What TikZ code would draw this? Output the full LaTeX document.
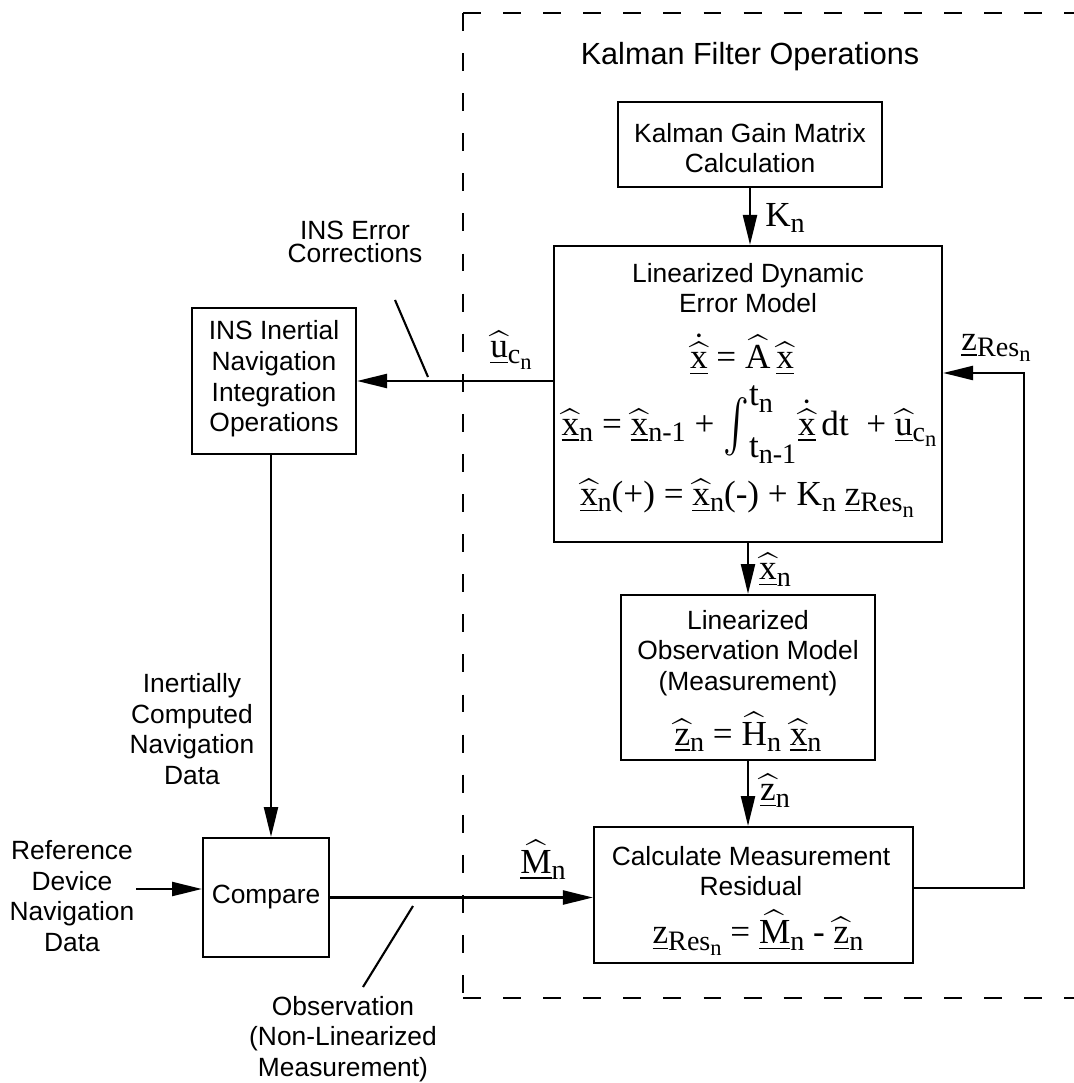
\documentclass[tikz,border=0pt]{standalone}
\usepackage{fontspec}
\usepackage{amsmath}
\usepackage{graphicx}
\setmainfont{Liberation Sans}
\newfontfamily\tms{Liberation Serif}
\usetikzlibrary{arrows.meta}

\newcommand\lowsub[1]{\mbox{\raisebox{-0.4ex}{\scalebox{0.8}{\tms #1}}}}
\newcommand\hx[1]{\mbox{$\underline{\widehat{\mbox{\tms #1}}}$}}
\newcommand\hdx[1]{\mbox{$\underline{\dot{\widehat{\mbox{\tms #1}}}}$}}
\newcommand\whb[1]{\mbox{$\widehat{\mbox{\tms #1}}$}}
\newcommand\uz{\mbox{$\underline{\mbox{\tms z}}$}}
\newcommand\zres{\uz\lowsub{Res\lowsub{n}}}
\newcommand\bigint{$\mathop{\vcenter{\hbox{\scalebox{1.1}[1.5]{$\int$}}}}\nolimits^{\mbox{\tms t\lowsub{n}}}_{\mbox{\tms t\lowsub{n-1}}}$}

\tikzset{
  box/.style={draw, line width=0.6pt, inner sep=0pt},
  txt/.style={font=\fontsize{7.5}{8.7}\selectfont, align=center, inner sep=0pt},
  mth/.style={font=\fontsize{10}{12}\tms, inner sep=0pt},
  arr/.style={line width=0.6pt, -{Triangle[length=8.5pt,width=4pt]}},
  thinline/.style={line width=0.6pt},
  dsh/.style={line width=0.6pt, dash pattern=on 5.1pt off 6.3pt}
}

\begin{document}
\begin{tikzpicture}[x=0.01cm,y=-0.01cm]
\useasboundingbox (0,0) rectangle (1074,1083);

% dashed region
\coordinate (dTL) at (463,13);
\coordinate (dTR) at (1074,13);
\coordinate (dBL) at (463,998);
\coordinate (dBR) at (1074,998);
\draw[dsh] (dTL) -- (dTR);
\draw[dsh] (dTL) -- (dBL);
\draw[dsh] (dBL) -- (dBR);

\node[txt, font=\fontsize{8.7}{10}\selectfont] (title) at (750,57) {Kalman Filter Operations};

% boxes
\node[box, minimum width=2.64cm, minimum height=0.85cm] (kg) at (750,144.5) {};
\node[txt] (kgt) at (750,148) {Kalman Gain Matrix\\Calculation};

\node[box, minimum width=3.88cm, minimum height=2.96cm] (dyn) at (748,394) {};
\node[txt] (dynt) at (748,288) {Linearized Dynamic\\Error Model};
\node[mth] (eq1) at (742,355) {\hdx{x} = \whb{A}\,\hx{x}};
\node[mth] (eq2) at (749,425) {\hx{x}\lowsub{n} = \hx{x}\lowsub{n-1} + \bigint\hdx{x}\,dt \ + \hx{u}\lowsub{c\lowsub{n}}};
\node[mth] (eq3) at (747,498) {\hx{x}\lowsub{n}(+) = \hx{x}\lowsub{n}(-) + K\lowsub{n} \zres};

\node[box, minimum width=2.54cm, minimum height=1.65cm] (obs) at (748,677.5) {};
\node[txt] (obst) at (748,653) {Linearized\\Observation Model\\(Measurement)};
\node[mth] (eq4) at (748,732) {\hx{z}\lowsub{n} = \whb{H}\lowsub{n} \hx{x}\lowsub{n}};

\node[box, minimum width=3.19cm, minimum height=1.36cm] (res) at (753.5,895) {};
\node[txt] (rest) at (751,871) {Calculate Measurement\\Residual};
\node[mth] (eq5) at (758,933) {\zres{} = \hx{M}\lowsub{n} - \hx{z}\lowsub{n}};

\node[box, minimum width=1.64cm, minimum height=1.46cm] (ins) at (274,381) {};
\node[txt] (inst) at (274,379) {INS Inertial\\Navigation\\Integration\\Operations};

\node[box, minimum width=1.26cm, minimum height=1.19cm] (cmp) at (266,897.5) {};
\node[txt] (cmpt) at (266,897) {Compare};

% free labels
\node[txt, font=\fontsize{7.5}{6.6}\selectfont] (insl) at (355,242) {INS Error\\Corrections};
\node[txt] (icl) at (192,729) {Inertially\\Computed\\Navigation\\Data};
\node[txt] (refl) at (72,896) {Reference\\Device\\Navigation\\Data};
\node[txt] (obl) at (343,1039) {Observation\\(Non-Linearized\\Measurement)};

% connector labels
\node[mth] (lk) at (785,218) {K\lowsub{n}};
\node[mth] (lx) at (775,570) {\hx{x}\lowsub{n}};
\node[mth] (lz) at (775,791) {\hx{z}\lowsub{n}};
\node[mth] (lu) at (511,350) {\hx{u}\lowsub{c\lowsub{n}}};
\node[mth] (lzr) at (996,348) {\zres};
\node[mth] (lm) at (543,860) {\hx{M}\lowsub{n}};

% connectors
\draw[arr] (kg.south) -- (kg.south |- dyn.north);
\draw[arr] (dyn.south) -- (dyn.south |- obs.north);
\draw[arr] (obs.south) -- (obs.south |- res.north);
\draw[arr] (dyn.west |- ins.east) -- (ins.east);

\coordinate (fbR) at (1024,888);
\coordinate (fbT) at (1024,373);
\draw[arr] (res.east |- fbR) -- (fbR) -- (fbT) -- (dyn.east |- fbT);

\coordinate (vl) at (271,0);
\draw[arr] (ins.south -| vl) -- (cmp.north -| vl);

\coordinate (refA) at (136,889);
\draw[arr] (refA) -- (cmp.west |- refA);

\draw[arr] (cmp.east) -- (cmp.east -| res.west);

% callout lines
\coordinate (c1a) at (395,300);
\coordinate (c1b) at (428,377);
\draw[thinline] (c1a) -- (c1b);
\coordinate (c2a) at (413,906);
\coordinate (c2b) at (363,987);
\draw[thinline] (c2a) -- (c2b);
\end{tikzpicture}
\end{document}
